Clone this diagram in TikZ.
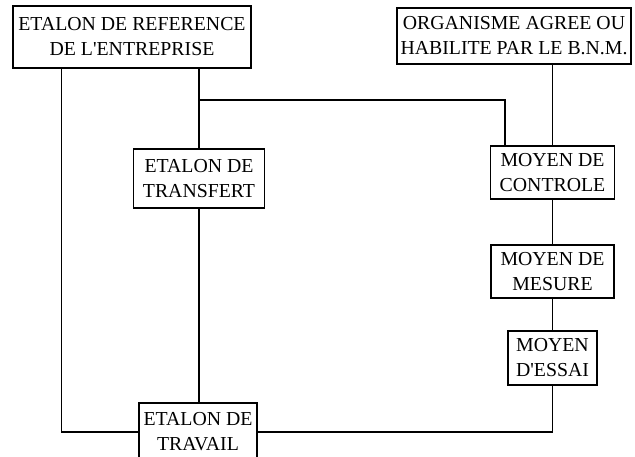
\documentclass[tikz,border=0pt]{standalone}
\usepackage{fontspec}
\setmainfont[Ligatures=TeXOff]{Liberation Serif}
\begin{document}
\begin{tikzpicture}[x=1pt,y=-1pt,
  box/.style={draw,line width=1.3pt,inner sep=0pt,align=center,
    font=\fontsize{19.8}{25}\selectfont},
  link/.style={line width=1.3pt}]
\useasboundingbox (0,0) rectangle (635,456);
\node[box,minimum width=238,minimum height=62] (ref) at (132,37) {ETALON DE REFERENCE\\DE L'ENTREPRISE};
\node[box,minimum width=234,minimum height=56] (org) at (514,36) {ORGANISME AGREE OU\\HABILITE PAR LE B.N.M.};
\node[box,minimum width=131,minimum height=59] (trans) at (199,178.5) {ETALON DE\\TRANSFERT};
\node[box,minimum width=124,minimum height=53] (ctrl) at (552.5,172.5) {MOYEN DE\\CONTROLE};
\node[box,minimum width=123,minimum height=53] (mes) at (552.5,271.5) {MOYEN DE\\MESURE};
\node[box,minimum width=89,minimum height=54] (ess) at (552.5,358) {MOYEN\\D'ESSAI};
\node[box,minimum width=118,minimum height=58] (trav) at (198,432) {ETALON DE\\TRAVAIL};
\coordinate (j) at (199,100);
\draw[link] (ref.south west) ++(49,0) |- (trav.west);
\draw[link] (ref.south -| trans.north) -- (trans.north);
\draw[link] (j) -| ([xshift=15pt]ctrl.north west);
\draw[link] (org.south -| ctrl.north) -- (ctrl.north);
\draw[link] (ctrl.south) -- (mes.north);
\draw[link] (mes.south) -- (ess.north);
\draw[link] (ess.south) |- (trav.east);
\draw[link] (trans.south) -- (trav.north -| trans.south);
\end{tikzpicture}
\end{document}
